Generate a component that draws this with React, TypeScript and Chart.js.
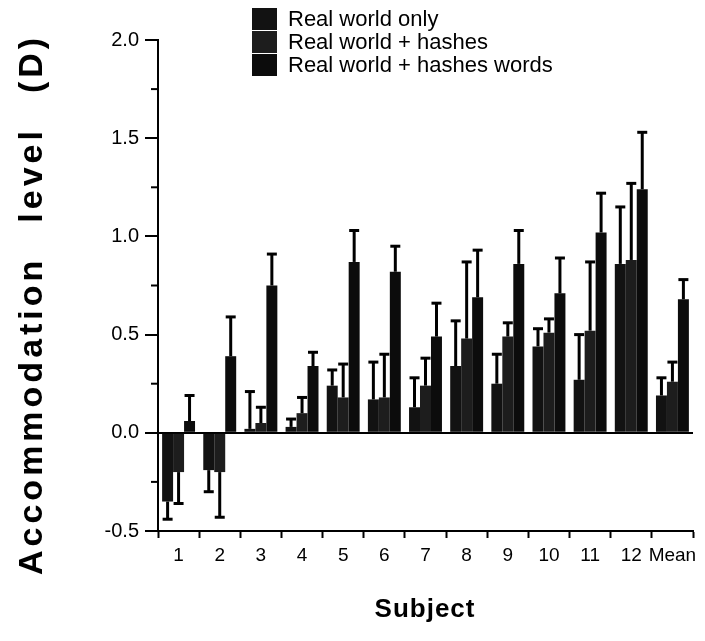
import React, { useEffect, useRef } from "react";
import { Chart, registerables } from "chart.js";

Chart.register(...registerables);

const subjects = ["1", "2", "3", "4", "5", "6", "7", "8", "9", "10", "11", "12", "Mean"];
const realWorldOnly = [-0.35, -0.19, 0.02, 0.03, 0.24, 0.17, 0.13, 0.34, 0.25, 0.44, 0.27, 0.86, 0.19];
const realWorldOnlyErr = [-0.44, -0.3, 0.21, 0.07, 0.32, 0.36, 0.28, 0.57, 0.4, 0.53, 0.5, 1.15, 0.28];
const realWorldHashes = [-0.2, -0.2, 0.05, 0.1, 0.18, 0.18, 0.24, 0.48, 0.49, 0.51, 0.52, 0.88, 0.26];
const realWorldHashesErr = [-0.36, -0.43, 0.13, 0.18, 0.35, 0.4, 0.38, 0.87, 0.56, 0.58, 0.87, 1.27, 0.36];
const realWorldHashesWords = [0.06, 0.39, 0.75, 0.34, 0.87, 0.82, 0.49, 0.69, 0.86, 0.71, 1.02, 1.24, 0.68];
const realWorldHashesWordsErr = [0.19, 0.59, 0.91, 0.41, 1.03, 0.95, 0.66, 0.93, 1.03, 0.89, 1.22, 1.53, 0.78];
const seriesLabels = ["Real world only", "Real world + hashes", "Real world + hashes words"];
const seriesColors = ["#121212", "#1d1d1d", "#0c0c0c"];
const minorTicks = [-0.25, 0.25, 0.75, 1.25, 1.75];
const yTitleWords = ["Accommodation", "level", "(D)"];
const xTitle = "Subject";

const FONT = '"Liberation Sans", Arial, Helvetica, sans-serif';

export default function App() {
  const ref = useRef<HTMLCanvasElement>(null);

  useEffect(() => {
    const canvas = ref.current;
    if (!canvas) return;
    const errs = [realWorldOnlyErr, realWorldHashesErr, realWorldHashesWordsErr];

    const errorBars = {
      id: "errorBars",
      afterDatasetsDraw(chart: any) {
        const { ctx } = chart;
        const ys = chart.scales.y;
        ctx.save();
        ctx.strokeStyle = "#000";
        ctx.lineWidth = 3;
        chart.data.datasets.forEach((_ds: any, i: number) => {
          const meta = chart.getDatasetMeta(i);
          meta.data.forEach((bar: any, j: number) => {
            const e = errs[i][j];
            const x = bar.x;
            const y0 = bar.y;
            const y1 = ys.getPixelForValue(e);
            ctx.beginPath();
            ctx.moveTo(x, y0);
            ctx.lineTo(x, y1);
            ctx.stroke();
            ctx.beginPath();
            ctx.moveTo(x - 5, y1);
            ctx.lineTo(x + 5, y1);
            ctx.stroke();
          });
        });
        ctx.restore();
      },
    };

    const decorations = {
      id: "decorations",
      afterDraw(chart: any) {
        const { ctx, chartArea } = chart;
        const ys = chart.scales.y;
        ctx.save();
        // minor ticks
        ctx.strokeStyle = "#000";
        ctx.lineWidth = 2;
        minorTicks.forEach((v) => {
          const y = ys.getPixelForValue(v);
          ctx.beginPath();
          ctx.moveTo(chartArea.left - 7, y);
          ctx.lineTo(chartArea.left, y);
          ctx.stroke();
        });
        // legend
        ctx.textBaseline = "middle";
        ctx.textAlign = "left";
        ctx.font = `22px ${FONT}`;
        chart.data.datasets.forEach((ds: any, i: number) => {
          const cy = 19 + i * 23;
          ctx.fillStyle = ds.backgroundColor;
          ctx.fillRect(252, cy - 11, 25, 22);
          ctx.fillStyle = "#000";
          ctx.fillText(ds.label, 288, cy + 1);
        });
        // y title
        ctx.save();
        ctx.translate(42, 0);
        ctx.rotate(-Math.PI / 2);
        ctx.font = `bold 34px ${FONT}`;
        (ctx as any).letterSpacing = "4px";
        ctx.textBaseline = "alphabetic";
        ctx.fillStyle = "#000";
        let pos = -575;
        const gaps = [34, 34];
        yTitleWords.forEach((w, k) => {
          ctx.fillText(w, pos, 0);
          pos += ctx.measureText(w).width;
          if (k < gaps.length) pos += gaps[k];
        });
        ctx.restore();
        // x title
        ctx.font = `bold 26px ${FONT}`;
        (ctx as any).letterSpacing = "1px";
        ctx.textAlign = "center";
        ctx.textBaseline = "middle";
        ctx.fillStyle = "#000";
        ctx.fillText(xTitle, 425, 610);
        ctx.restore();
      },
    };

    const chart = new Chart(canvas, {
      type: "bar",
      data: {
        labels: subjects,
        datasets: [
          { label: seriesLabels[0], data: realWorldOnly, backgroundColor: seriesColors[0] },
          { label: seriesLabels[1], data: realWorldHashes, backgroundColor: seriesColors[1] },
          { label: seriesLabels[2], data: realWorldHashesWords, backgroundColor: seriesColors[2] },
        ],
      },
      options: {
        responsive: false,
        animation: false,
        devicePixelRatio: 1,
        layout: { padding: { top: 40, right: 12, left: 0, bottom: 0 } },
        datasets: { bar: { categoryPercentage: 0.8, barPercentage: 1.0 } },
        plugins: {
          legend: { display: false },
          tooltip: { enabled: false },
          title: { display: false },
        },
        scales: {
          x: {
            afterFit: (s: any) => {
              s.height = 110;
            },
            grid: {
              offset: true,
              drawOnChartArea: false,
              tickLength: 7,
              tickColor: "#000",
              tickWidth: 2,
            },
            border: { display: true, color: "#000", width: 2 },
            ticks: {
              color: "#000",
              padding: 6,
              font: { family: FONT, size: 19 },
              maxRotation: 0,
              autoSkip: false,
            },
          },
          y: {
            min: -0.5,
            max: 2.0,
            afterFit: (s: any) => {
              s.width = 158;
            },
            grid: {
              color: (c: any) => (c.tick && c.tick.value === 0 ? "#000" : "rgba(0,0,0,0)"),
              lineWidth: 2,
              tickLength: 13,
              tickColor: "#000",
              tickWidth: 2,
            },
            border: { display: true, color: "#000", width: 2 },
            ticks: {
              stepSize: 0.5,
              color: "#000",
              padding: 6,
              font: { family: FONT, size: 20 },
              callback: (v: any) => Number(v).toFixed(1),
            },
          },
        },
      },
      plugins: [errorBars, decorations],
    });
    return () => chart.destroy();
  }, []);

  return (
    <div style={{ position: "fixed", left: 0, top: 0, width: 705, height: 641, background: "#fff" }}>
      <canvas ref={ref} width={705} height={641} />
    </div>
  );
}
